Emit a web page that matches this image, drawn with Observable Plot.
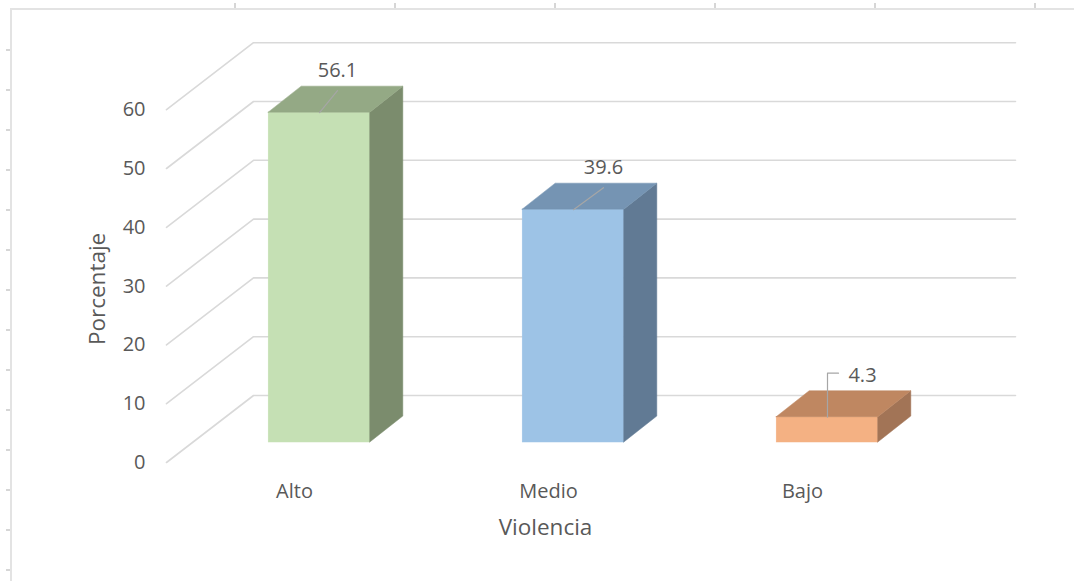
<!DOCTYPE html>
<html><head><meta charset="utf-8">
<script src="https://cdn.jsdelivr.net/npm/d3@7"></script>
<script src="https://cdn.jsdelivr.net/npm/@observablehq/plot@0.6"></script>
<style>
body{margin:0;background:#fff;}
#wrap{position:relative;width:1074px;height:581px;overflow:hidden;background:#fff}
#wrap svg{position:absolute;left:0;top:0;overflow:visible}
.frame{position:absolute;left:10px;top:8px;width:1100px;height:600px;border-top:2px solid #e3e3e3;border-left:2px solid #e3e3e3}
.tk{position:absolute;background:#d6d6d6}
</style></head><body><div id="wrap"><div class="frame"></div></div>
<script>
// ---- data ----
const categories = ["Alto", "Medio", "Bajo"];
const values = [56.1, 39.6, 4.3];
const yTicks = [0, 10, 20, 30, 40, 50, 60];
const xTitle = "Violencia";
const yTitle = "Porcentaje";

// ---- style ----
const frontColors = ["#C5E0B4", "#9DC3E6", "#F4B183"];
const topColors   = ["#94A985", "#7594B3", "#BF8761"];
const sideColors  = ["#7B8C6D", "#617A94", "#A27456"];
const textColor = "#595959";
const font = "'Open Sans', sans-serif";
const fs = 20;
const titleFs = 22.5;

// ---- layout ----
const W = 1074, H = 581, mL = 192, mR = 120, mT = 89.2, mB = 139;
const yMax = 60;
const kx = (W - mL - mR) / categories.length;
const ky = (H - mT - mB) / yMax;
const ux = p => p / kx, uy = p => p / ky;
const barW = 0.4;
const dX = ux(33), dY = uy(26);
const xFront = -0.5 - ux(26), xBack = -0.5 + ux(61), xEnd = categories.length - 0.5 + ux(61);
const yFrontOff = -uy(20), yBackOff = uy(47);
const labelDx = [18, 30, 35];

const bars = categories.map((c, i) => ({c, i, v: values[i], L: i - barW/2, R: i + barW/2}));

const gridPts = yTicks.flatMap(t => [
  {t, x: xFront, y: t + yFrontOff},
  {t, x: xBack, y: t + yBackOff},
  {t, x: xEnd, y: t + yBackOff}
]);

const sidePts = bars.flatMap(b => [
  {c: b.c, col: sideColors[b.i], x: b.R, y1: 0, y2: b.v},
  {c: b.c, col: sideColors[b.i], x: b.R + dX, y1: dY, y2: b.v + dY}
]);
const topPts = bars.flatMap(b => [
  {c: b.c, col: topColors[b.i], x: b.L, y1: b.v, y2: b.v},
  {c: b.c, col: topColors[b.i], x: b.L + dX, y1: b.v, y2: b.v + dY},
  {c: b.c, col: topColors[b.i], x: b.R, y1: b.v, y2: b.v + dY},
  {c: b.c, col: topColors[b.i], x: b.R + dX, y1: b.v + dY, y2: b.v + dY}
]);

const leaderPts = bars.flatMap(b => {
  const lx = ux(labelDx[b.i]);
  if (b.v < 10) {
    return [
      {c: b.c, x: b.i, y: b.v},
      {c: b.c, x: b.i, y: b.v + uy(44)},
      {c: b.c, x: b.i + ux(11), y: b.v + uy(44)}
    ];
  }
  return [
    {c: b.c, x: b.i, y: b.v},
    {c: b.c, x: b.i + lx, y: b.v + uy(22)}
  ];
});

// data labels: placed at the label-offset point above each bar
const labelPts = bars.map(b => ({...b, lx: b.i + ux(labelDx[b.i]), ly: b.v + uy(42)}));

const plot = Plot.plot({
  width: W, height: H,
  marginLeft: mL, marginRight: mR, marginTop: mT, marginBottom: mB,
  x: {domain: [-0.5, categories.length - 0.5], axis: null},
  y: {domain: [0, yMax], axis: null},
  color: {type: "identity"},
  style: {fontFamily: font, fontSize: fs + "px", color: textColor, background: "transparent", overflow: "visible"},
  marks: [
    Plot.line(gridPts, {x: "x", y: "y", z: "t", stroke: "#d9d9d9", strokeWidth: 1.6, curve: "linear"}),
    Plot.rect(bars, {x1: "L", x2: "R", y1: 0, y2: "v", fill: (d) => frontColors[d.i], stroke: (d) => frontColors[d.i], strokeWidth: 0.5}),
    Plot.areaY(sidePts, {x: "x", y1: "y1", y2: "y2", z: "c", fill: "col", stroke: "col", strokeWidth: 0.5, curve: "linear"}),
    Plot.areaY(topPts, {x: "x", y1: "y1", y2: "y2", z: "c", fill: "col", stroke: "col", strokeWidth: 0.5, curve: "linear"}),
    Plot.line(leaderPts, {x: "x", y: "y", z: "c", stroke: "#a6a6a6", strokeWidth: 1.2, curve: "linear"}),
    Plot.text(labelPts, {x: "lx", y: "ly", text: d => d.v.toFixed(1), fill: textColor, fontSize: fs}),
    Plot.text(yTicks, {x: xFront, y: t => t + yFrontOff, text: t => String(t), textAnchor: "end", dx: -21, fill: textColor, fontSize: fs}),
    Plot.text(categories, {x: (d, i) => i, y: 0, text: d => d, dx: -25, dy: 49, fill: textColor, fontSize: fs}),
    Plot.text([xTitle], {frameAnchor: "bottom", text: d => d, dx: -28, dy: 92, fill: textColor, fontSize: titleFs}),
    Plot.text([yTitle], {frameAnchor: "left", text: d => d, dx: -95, dy: 79, rotate: -90, fill: textColor, fontSize: titleFs})
  ]
});
document.getElementById("wrap").appendChild(plot);

// Excel-like frame ruler ticks
const wrap = document.getElementById("wrap");
for (let x = 234; x < W; x += 160) {
  const d = document.createElement("div"); d.className = "tk";
  Object.assign(d.style, {left: x + "px", top: "3px", width: "1.5px", height: "5px"});
  wrap.appendChild(d);
}
for (let y = 49; y < H; y += 40) {
  const d = document.createElement("div"); d.className = "tk";
  Object.assign(d.style, {left: "6px", top: y + "px", width: "4px", height: "1.5px"});
  wrap.appendChild(d);
}
</script>
</body></html>
